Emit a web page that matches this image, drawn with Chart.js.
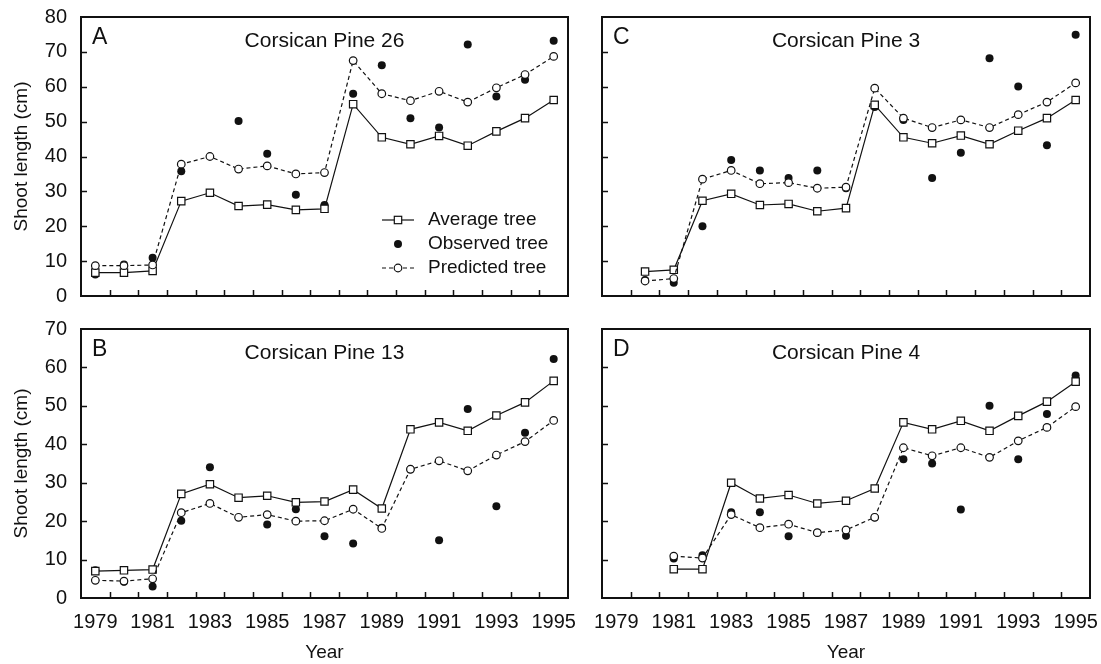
<!DOCTYPE html>
<html lang="en">
<head>
  <meta charset="UTF-8">
  <title>Shoot length - Corsican Pine</title>
  <script src="https://cdn.jsdelivr.net/npm/chart.js"></script>
  <style>
    body { margin: 0; background: #fff; }
    .wrap { position: relative; width: 1101px; height: 664px; }
    .wrap canvas { position: absolute; }
  </style>
</head>
<body>
  <div class="wrap">
    <canvas id="panelA" width="590" height="310" style="left:0;top:0"></canvas>
    <canvas id="panelC" width="511" height="310" style="left:590px;top:0"></canvas>
    <canvas id="panelB" width="590" height="354" style="left:0;top:310px"></canvas>
    <canvas id="panelD" width="511" height="354" style="left:590px;top:310px"></canvas>
  </div>
  <script>
    // data (years 1979-1995, null = no value)
    const years = [1979, 1980, 1981, 1982, 1983, 1984, 1985, 1986, 1987, 1988, 1989, 1990, 1991, 1992, 1993, 1994, 1995];
    const yearLabels = [1979, 1981, 1983, 1985, 1987, 1989, 1991, 1993, 1995];

    const avgA  = [6.7, 6.7, 7.2, 27.2, 29.6, 25.8, 26.2, 24.7, 25.0, 55.0, 45.5, 43.5, 45.9, 43.1, 47.2, 51.0, 56.2];
    const obsA  = [6.2, 9.0, 11.0, 35.8, null, 50.2, 40.8, 29.0, 26.1, 58.0, 66.2, 51.0, 48.3, 72.1, 57.2, 62.0, 73.2];
    const predA = [8.7, 8.7, 8.9, 37.8, 40.0, 36.4, 37.3, 35.0, 35.4, 67.5, 58.0, 56.0, 58.7, 55.6, 59.7, 63.5, 68.7];

    const avgC  = [null, 7.0, 7.5, 27.3, 29.3, 26.1, 26.4, 24.3, 25.2, 54.8, 45.5, 43.8, 46.0, 43.5, 47.4, 51.0, 56.2];
    const obsC  = [null, 4.6, 3.8, 20.0, 39.0, 36.0, 33.8, 36.0, 30.9, 54.2, 50.5, 33.8, 41.1, 68.2, 60.1, 43.2, 74.9];
    const predC = [null, 4.3, 5.0, 33.5, 36.0, 32.2, 32.5, 30.9, 31.2, 59.6, 51.0, 48.3, 50.5, 48.3, 52.0, 55.6, 61.1];

    const avgB  = [7.0, 7.2, 7.4, 27.1, 29.6, 26.1, 26.6, 24.9, 25.1, 28.2, 23.3, 43.9, 45.7, 43.5, 47.5, 50.9, 56.5];
    const obsB  = [7.2, 4.2, 3.0, 20.1, 34.0, null, 19.1, 23.1, 16.1, 14.2, 18.3, 33.5, 15.0, 49.2, 23.9, 43.0, 62.2];
    const predB = [4.6, 4.4, 5.0, 22.2, 24.6, 21.0, 21.7, 20.0, 20.1, 23.1, 18.1, 33.5, 35.7, 33.1, 37.2, 40.7, 46.2];

    const avgD  = [null, null, 7.5, 7.5, 30.0, 25.9, 26.8, 24.6, 25.3, 28.5, 45.7, 43.9, 46.1, 43.5, 47.4, 51.1, 56.3];
    const obsD  = [null, null, 10.3, 11.1, 22.3, 22.3, 16.1, 17.0, 16.2, 21.0, 36.1, 35.0, 23.0, 50.0, 36.1, 47.9, 57.9];
    const predD = [null, null, 10.9, 10.4, 21.7, 18.3, 19.2, 17.0, 17.7, 21.0, 39.1, 37.0, 39.1, 36.6, 40.9, 44.4, 49.8];

    const FAMILY = '"Liberation Sans", Arial, Helvetica, sans-serif';
    const INK = '#111';

    function pts(vals) {
      return years.map((yr, i) => ({ x: yr, y: vals[i] }));
    }

    // keep label overhang from moving the plot area
    function noPad(s) {
      s.paddingLeft = 0; s.paddingRight = 0; s.paddingTop = 0; s.paddingBottom = 0;
    }

    // frame, inward ticks, panel letter, title and (optional) legend
    function decoPlugin(letter, title, yMax, withLegend) {
      return {
        id: 'deco',
        afterDraw(chart) {
          const { ctx, chartArea: a, scales: { x, y } } = chart;
          ctx.save();
          ctx.strokeStyle = INK;
          ctx.lineWidth = 1.5;
          ctx.beginPath();
          for (let v = 10; v < yMax; v += 10) {
            const py = Math.round(y.getPixelForValue(v)) + 0.5;
            ctx.moveTo(a.left, py);
            ctx.lineTo(a.left + 6, py);
          }
          for (let yr = 1979.5; yr < 1995; yr += 1) {
            const px = Math.round(x.getPixelForValue(yr)) + 0.5;
            ctx.moveTo(px, a.bottom);
            ctx.lineTo(px, a.bottom - 6);
          }
          ctx.stroke();
          ctx.lineWidth = 2;
          ctx.strokeRect(a.left, a.top, a.right - a.left, a.bottom - a.top);

          ctx.fillStyle = INK;
          ctx.textBaseline = 'alphabetic';
          ctx.font = '23px ' + FAMILY;
          ctx.textAlign = 'left';
          ctx.fillText(letter, a.left + 11, a.top + 27);
          ctx.font = '21px ' + FAMILY;
          ctx.textAlign = 'center';
          ctx.fillText(title, (a.left + a.right) / 2, a.top + 30);

          if (withLegend) {
            const x0 = a.right - 186, x1 = a.right - 154, xm = (x0 + x1) / 2;
            const rows = [a.bottom - 76, a.bottom - 52, a.bottom - 28];
            ctx.lineWidth = 1.2;
            // Average tree
            ctx.beginPath(); ctx.moveTo(x0, rows[0]); ctx.lineTo(x1, rows[0]); ctx.stroke();
            ctx.fillStyle = '#fff';
            ctx.fillRect(xm - 3.7, rows[0] - 3.7, 7.4, 7.4);
            ctx.strokeRect(xm - 3.7, rows[0] - 3.7, 7.4, 7.4);
            // Observed tree
            ctx.fillStyle = INK;
            ctx.beginPath(); ctx.arc(xm, rows[1], 4, 0, Math.PI * 2); ctx.fill();
            // Predicted tree
            ctx.setLineDash([4, 3]);
            ctx.beginPath(); ctx.moveTo(x0, rows[2]); ctx.lineTo(x1, rows[2]); ctx.stroke();
            ctx.setLineDash([]);
            ctx.fillStyle = '#fff';
            ctx.beginPath(); ctx.arc(xm, rows[2], 3.8, 0, Math.PI * 2); ctx.fill(); ctx.stroke();

            ctx.fillStyle = INK;
            ctx.font = '19px ' + FAMILY;
            ctx.textAlign = 'left';
            ctx.textBaseline = 'middle';
            ctx.fillText('Average tree', a.right - 140, rows[0]);
            ctx.fillText('Observed tree', a.right - 140, rows[1]);
            ctx.fillText('Predicted tree', a.right - 140, rows[2]);
          }
          ctx.restore();
        }
      };
    }

    function makePanel(id, p) {
      const font = { family: FAMILY, size: 19 };
      const tickFont = { family: FAMILY, size: 20 };
      new Chart(document.getElementById(id), {
        type: 'line',
        data: {
          datasets: [
            {
              label: 'Predicted tree', data: pts(p.pred), order: 0,
              borderColor: INK, borderWidth: 1.2, borderDash: [4, 3],
              pointStyle: 'circle', pointRadius: 3.8, pointBackgroundColor: '#fff',
              pointBorderColor: INK, pointBorderWidth: 1.2, tension: 0
            },
            {
              label: 'Average tree', data: pts(p.avg), order: 1,
              borderColor: INK, borderWidth: 1.2,
              pointStyle: 'rect', pointRadius: 5.2, pointBackgroundColor: '#fff',
              pointBorderColor: INK, pointBorderWidth: 1.2, tension: 0
            },
            {
              label: 'Observed tree', data: pts(p.obs), order: 2, showLine: false,
              pointStyle: 'circle', pointRadius: 4, pointBackgroundColor: INK,
              pointBorderColor: INK, pointBorderWidth: 0
            }
          ]
        },
        options: {
          responsive: false,
          animation: false,
          events: [],
          layout: { padding: { top: p.padTop, right: p.padRight, left: 0, bottom: 0 } },
          plugins: { legend: { display: false }, tooltip: { enabled: false } },
          scales: {
            x: {
              type: 'linear', min: 1978.5, max: 1995.5,
              afterBuildTicks: s => { s.ticks = yearLabels.map(v => ({ value: v })); },
              afterFit: s => { s.height = p.xHeight; noPad(s); },
              grid: { display: false, drawTicks: false },
              border: { display: false },
              ticks: {
                display: p.showX, padding: 12, font: tickFont, color: INK,
                maxRotation: 0, autoSkip: false, callback: v => String(v)
              },
              title: { display: p.showX, text: 'Year', font: font, color: INK, padding: { top: 0, bottom: 0 } }
            },
            y: {
              min: 0, max: p.yMax,
              ticks: { display: p.showY, stepSize: 10, padding: 14, font: tickFont, color: INK },
              afterFit: s => { s.width = p.yWidth; noPad(s); },
              grid: { display: false, drawTicks: false },
              border: { display: false },
              title: { display: p.showY, text: 'Shoot length (cm)', font: font, color: INK, padding: { top: 10, bottom: 0 } }
            }
          }
        },
        plugins: [decoPlugin(p.letter, p.title, p.yMax, p.legend)]
      });
    }

    makePanel('panelA', { avg: avgA, obs: obsA, pred: predA, yMax: 80, letter: 'A', title: 'Corsican Pine 26',
      legend: true, showX: false, showY: true, yWidth: 81, xHeight: 14, padTop: 17, padRight: 22 });
    makePanel('panelC', { avg: avgC, obs: obsC, pred: predC, yMax: 80, letter: 'C', title: 'Corsican Pine 3',
      legend: false, showX: false, showY: false, yWidth: 12, xHeight: 14, padTop: 17, padRight: 11 });
    makePanel('panelB', { avg: avgB, obs: obsB, pred: predB, yMax: 70, letter: 'B', title: 'Corsican Pine 13',
      legend: false, showX: true, showY: true, yWidth: 81, xHeight: 66, padTop: 19, padRight: 22 });
    makePanel('panelD', { avg: avgD, obs: obsD, pred: predD, yMax: 70, letter: 'D', title: 'Corsican Pine 4',
      legend: false, showX: true, showY: false, yWidth: 12, xHeight: 66, padTop: 19, padRight: 11 });
  </script>
</body>
</html>
